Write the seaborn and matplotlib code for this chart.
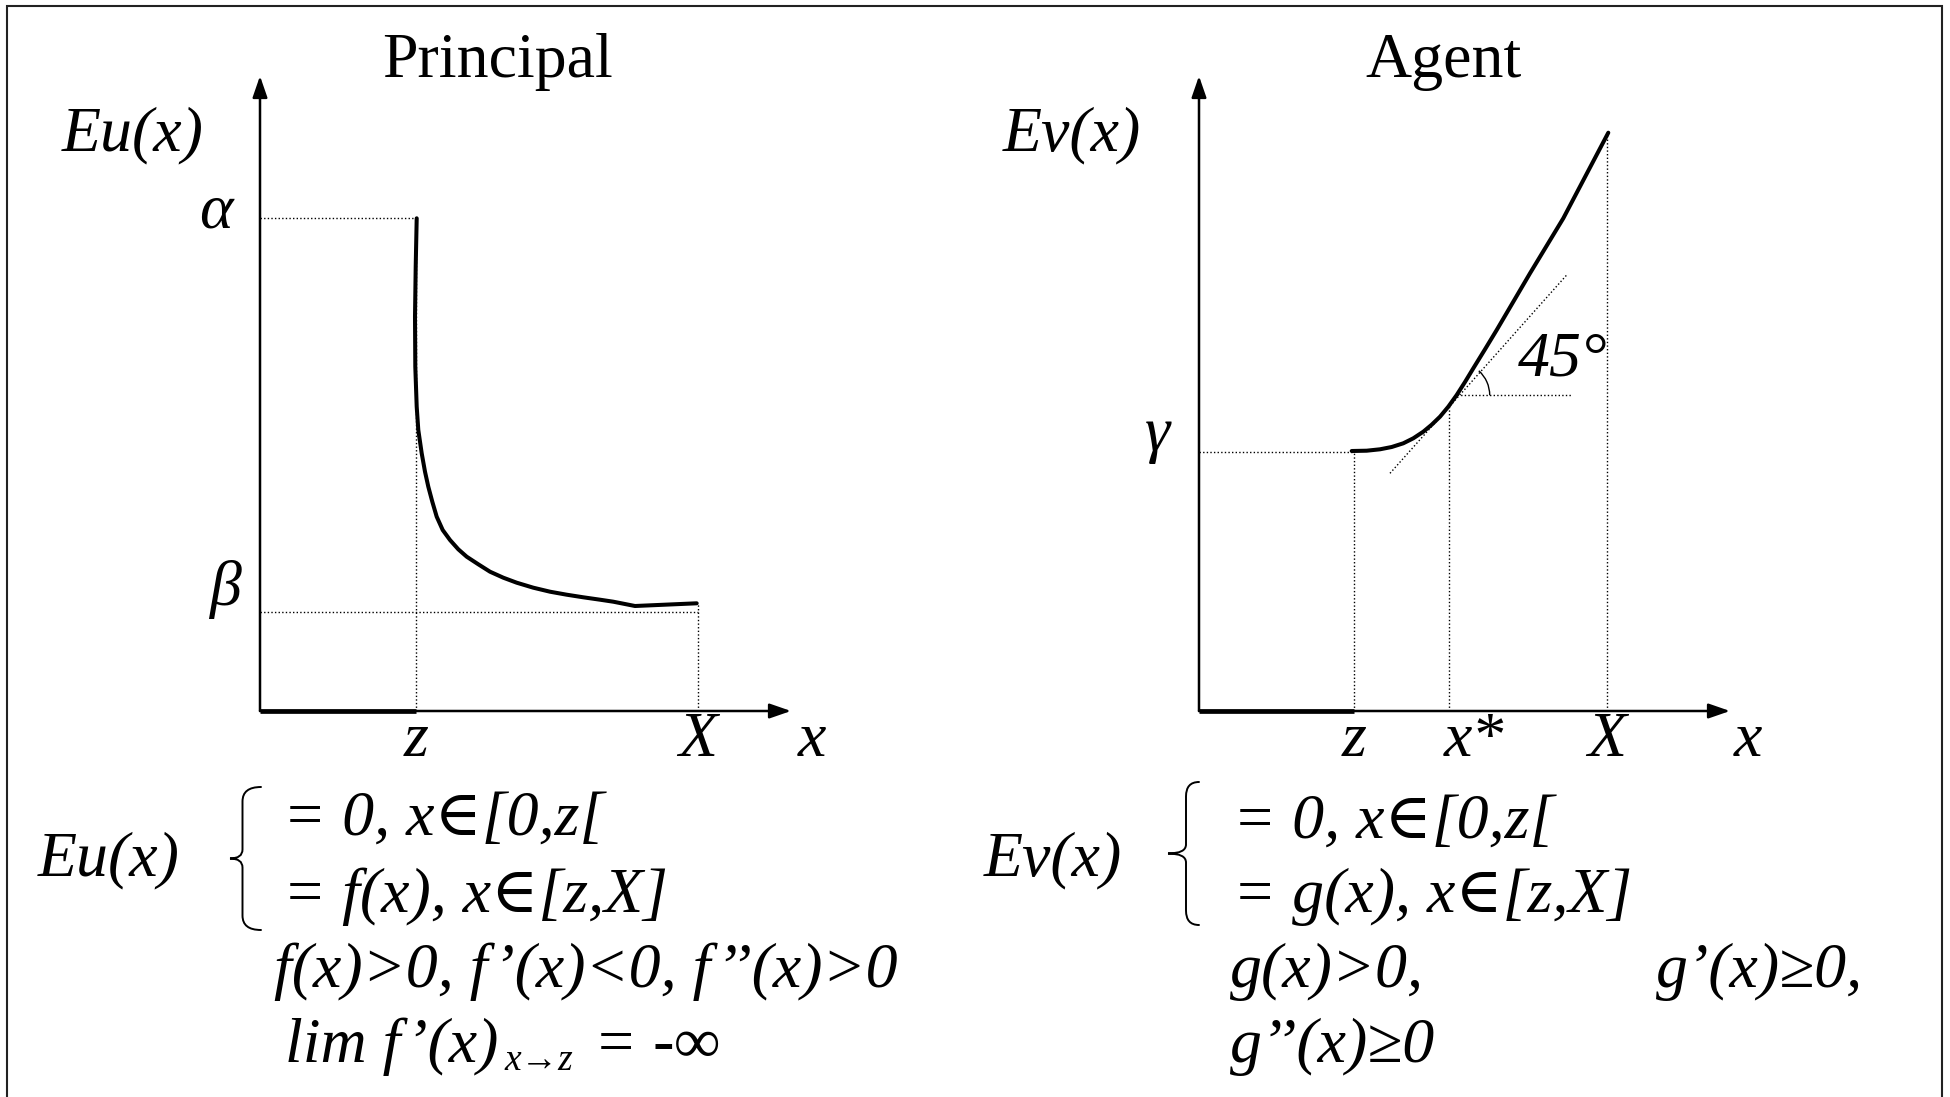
import matplotlib
matplotlib.use("Agg")
import matplotlib.pyplot as plt
import seaborn as sns
from matplotlib.patches import Arc, Rectangle, PathPatch
from matplotlib.path import Path

# OUTPUT
OUT_PNG = "out.png"

W, H, DPI = 1950, 1097, 100
FS = 46        # main text size (pt)
FS_SUB = 27    # subscript size (pt)

# panel origins in pixels (left, right); data units are 100 px from the origin
ORIGIN_P = (260, 711)
ORIGIN_A = (1199, 711)
AXIS_LEN_X = 5.31
AXIS_LEN_Y = 6.35

# Principal: Eu(x)
p_z = 1.56
p_xmax = 4.38
p_alpha = 4.93
p_beta = 0.99
f_x = [1.567, 1.557, 1.55, 1.553, 1.567, 1.583, 1.617, 1.65, 1.683, 1.723,
       1.767, 1.827, 1.90, 1.983, 2.067, 2.183, 2.30, 2.433, 2.567, 2.733,
       2.90, 3.067, 3.233, 3.40, 3.533, 3.75, 4.367]
f_y = [4.927, 4.443, 3.943, 3.443, 3.043, 2.81, 2.577, 2.393, 2.243, 2.093,
       1.943, 1.81, 1.71, 1.617, 1.543, 1.467, 1.393, 1.333, 1.283, 1.233,
       1.193, 1.163, 1.137, 1.113, 1.093, 1.05, 1.077]

# Agent: Ev(x)
a_z = 1.55
a_xstar = 2.50
a_xmax = 4.08
a_gamma = 2.595
g_x = [1.527, 1.677, 1.81, 1.927, 2.043, 2.143, 2.243, 2.327, 2.41, 2.493,
       2.577, 2.66, 2.743, 2.86, 2.977, 3.31, 3.643, 4.093]
g_y = [2.60, 2.603, 2.617, 2.64, 2.677, 2.727, 2.793, 2.863, 2.943, 3.043,
       3.16, 3.29, 3.427, 3.617, 3.81, 4.377, 4.927, 5.783]
tangent_x = [1.91, 3.677]
tangent_y = [2.377, 4.36]
angle_vertex = (2.577, 3.157)
angle_ref_end = 3.717
angle_radius = 0.33
angle_deg = 48


def main():
    sns.set_theme(style="white")
    plt.rcParams["font.family"] = ["Liberation Serif", "DejaVu Serif"]

    fig = plt.figure(figsize=(W / DPI, H / DPI), dpi=DPI)
    fig.patch.set_facecolor("white")

    ax_p = panel_axes(fig, ORIGIN_P)
    ax_a = panel_axes(fig, ORIGIN_A)

    draw_principal(ax_p)
    draw_agent(ax_a)
    fig.canvas.draw()
    draw_principal_text(fig, ax_p)
    draw_agent_text(ax_a)

    # outer frame (bottom edge falls off the slide)
    fig.add_artist(Rectangle((7 / W, -0.02), (1942 - 7) / W, 1.02 - 6 / H,
                             transform=fig.transFigure, fill=False,
                             lw=1.5, ec="#222222"))
    fig.savefig(OUT_PNG, dpi=DPI)
    plt.close(fig)


def panel_axes(fig, origin):
    ox, oy = origin
    ax = fig.add_axes([0, 0, 1, 1])
    ax.set_xlim(-ox / 100, (W - ox) / 100)
    ax.set_ylim((oy - H) / 100, oy / 100)
    ax.axis("off")
    ax.patch.set_alpha(0)
    return ax


def axes_arrows(ax):
    style = dict(arrowstyle="-|>,head_length=1.3,head_width=0.45",
                 mutation_scale=10, lw=1.8, color="black",
                 shrinkA=0, shrinkB=0)
    ax.annotate("", xy=(AXIS_LEN_X, 0), xytext=(0, 0), arrowprops=style)
    ax.annotate("", xy=(0, AXIS_LEN_Y), xytext=(0, 0), arrowprops=style)


def dotted(ax, x, y):
    ax.plot(x, y, color="black", lw=1.0, linestyle=(0, (1, 1.6)))


def brace(ax, x_right, x_mid, x_tip, top, bottom):
    mid = (top + bottom) / 2
    c = 0.09
    verts = [(x_right, top), (x_mid, top), (x_mid, top - c * 1.6),
             (x_mid, mid + c), (x_mid, mid), (x_tip, mid),
             (x_mid, mid), (x_mid, mid - c),
             (x_mid, bottom + c * 1.6), (x_mid, bottom), (x_right, bottom)]
    codes = [Path.MOVETO, Path.CURVE3, Path.CURVE3,
             Path.LINETO, Path.CURVE3, Path.CURVE3,
             Path.CURVE3, Path.CURVE3,
             Path.LINETO, Path.CURVE3, Path.CURVE3]
    ax.add_patch(PathPatch(Path(verts, codes), fill=False, lw=1.4,
                           ec="black", capstyle="round"))


def txt(ax, x, y, s, size=FS, style="italic", ha="left", **kw):
    return ax.text(x, y, s, fontsize=size, style=style, ha=ha,
                   va="baseline", color="black", clip_on=False, **kw)


def right_edge(fig, ax, t):
    fig.canvas.draw()
    pts = ax.transData.inverted().transform(t.get_window_extent().get_points())
    return pts[1, 0]


def draw_principal(ax):
    dotted(ax, [0, p_z], [p_alpha, p_alpha])
    dotted(ax, [0, p_xmax], [p_beta, p_beta])
    dotted(ax, [p_z, p_z], [0, p_alpha])
    dotted(ax, [p_xmax, p_xmax], [0, f_y[-1]])
    axes_arrows(ax)
    ax.plot([0, p_z], [0, 0], color="black", lw=3.4, solid_capstyle="butt")
    sns.lineplot(x=f_x, y=f_y, ax=ax, color="black", lw=2.9,
                 sort=False, estimator=None)

    txt(ax, 2.37, 6.34, "Principal", style="normal", ha="center")
    txt(ax, -1.98, 5.61, "Eu(x)")
    txt(ax, -0.44, 4.83, "α", ha="center")
    txt(ax, -0.35, 1.06, "β", ha="center")
    txt(ax, p_z, -0.45, "z", ha="center")
    txt(ax, p_xmax, -0.45, "X", ha="center")
    txt(ax, 5.52, -0.45, "x", ha="center")


def draw_principal_text(fig, ax):
    txt(ax, -2.22, -1.64, "Eu(x)")
    brace(ax, 0.01, -0.175, -0.30, -0.76, -2.19)
    txt(ax, 0.23, -1.24, "= 0, x∈[0,z[")
    txt(ax, 0.23, -2.01, "= f(x), x∈[z,X]")
    txt(ax, 0.14, -2.76, "f(x)>0, f’(x)<0, f’’(x)>0")
    lim = txt(ax, 0.25, -3.51, "lim f’(x)")
    sub = txt(ax, right_edge(fig, ax, lim) + 0.06, -3.59, "x→z", size=FS_SUB)
    txt(ax, right_edge(fig, ax, sub) + 0.21, -3.51, "= -∞")


def draw_agent(ax):
    dotted(ax, [0, a_z], [a_gamma, a_gamma])
    dotted(ax, [a_z, a_z], [0, a_gamma])
    dotted(ax, [a_xstar, a_xstar], [0, 3.06])
    dotted(ax, [a_xmax, a_xmax], [0, g_y[-1]])
    dotted(ax, tangent_x, tangent_y)
    dotted(ax, [angle_vertex[0], angle_ref_end], [angle_vertex[1]] * 2)
    ax.add_patch(Arc(angle_vertex, 2 * angle_radius, 2 * angle_radius,
                     theta1=0, theta2=angle_deg, lw=1.0, color="black"))
    axes_arrows(ax)
    ax.plot([0, a_z], [0, 0], color="black", lw=3.4, solid_capstyle="butt")
    sns.lineplot(x=g_x, y=g_y, ax=ax, color="black", lw=2.9,
                 sort=False, estimator=None)

    txt(ax, 2.45, 6.34, "Agent", style="normal", ha="center")
    txt(ax, -1.96, 5.61, "Ev(x)")
    txt(ax, -0.42, 2.61, "γ", ha="center")
    txt(ax, 3.19, 3.36, "45°")
    txt(ax, a_z, -0.45, "z", ha="center")
    txt(ax, 2.75, -0.45, "x*", ha="center")
    txt(ax, a_xmax, -0.45, "X", ha="center")
    txt(ax, 5.49, -0.45, "x", ha="center")


def draw_agent_text(ax):
    txt(ax, -2.15, -1.64, "Ev(x)")
    brace(ax, 0.0, -0.13, -0.31, -0.71, -2.14)
    txt(ax, 0.34, -1.27, "= 0, x∈[0,z[")
    txt(ax, 0.34, -2.01, "= g(x), x∈[z,X]")
    txt(ax, 0.31, -2.76, "g(x)>0,")
    txt(ax, 4.57, -2.76, "g’(x)≥0,")
    txt(ax, 0.31, -3.51, "g’’(x)≥0")


if __name__ == "__main__":
    main()
